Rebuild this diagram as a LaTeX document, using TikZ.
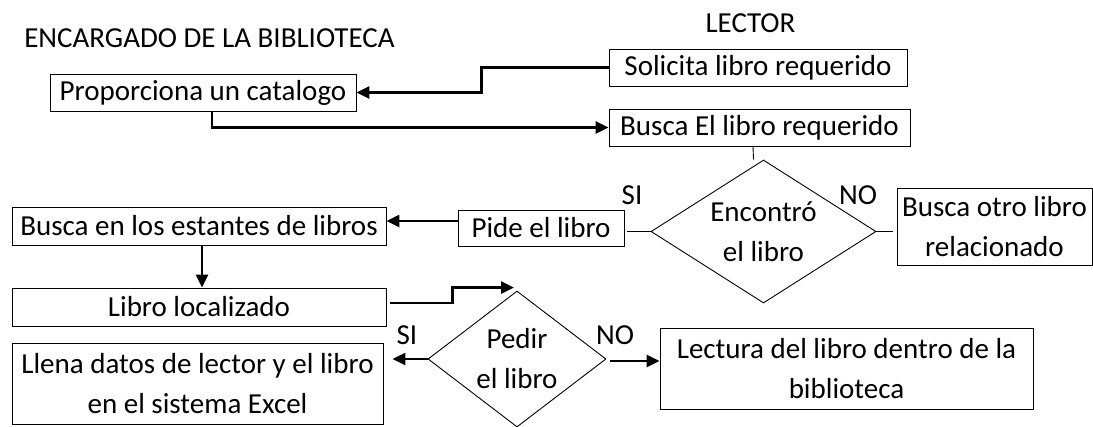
\documentclass[tikz,border=0pt]{standalone}
\usepackage{fontspec}
\setmainfont{Carlito}
\usetikzlibrary{arrows.meta,shapes.geometric}
\tikzset{
	caja/.style={draw, line width=0.9pt, inner sep=0pt, align=center},
	rombo/.style={draw, diamond, line width=0.9pt, inner sep=0pt, align=center},
	flecha/.style={line width=2.4pt, -{Triangle[length=13pt,width=12pt]}},
	linea/.style={line width=2.4pt}
}
\begin{document}
\fontsize{29}{40}\selectfont
\begin{tikzpicture}[x=1pt,y=-1pt]
		%\draw [help lines, step=50] (0,0) grid (1093,426);
		\useasboundingbox (0,0) rectangle (1093,426);
		\node (encargado) at (209.5,38){ENCARGADO DE LA BIBLIOTECA};
		\node (lector) at (750.5,23){LECTOR};
		\node[caja, minimum width=306pt, minimum height=37pt] (catalogo) at (203,92.5){Proporciona un catalogo};
		\node[caja, minimum width=298pt, minimum height=37pt] (solicita) at (758,67.5){Solicita libro requerido};
		\node[caja, minimum width=301pt, minimum height=37pt] (buscareq) at (759.5,127.5){Busca El libro requerido};
		\node[rombo, aspect=1.57, minimum width=225pt, minimum height=143pt] (encontro) at (763.5,231.5){Encontró\\el libro};
		\node[caja, minimum width=166pt, minimum height=36pt] (pide) at (541,228){Pide el libro};
		\node[caja, minimum width=195pt, minimum height=77pt] (otro) at (994.5,226.5){Busca otro libro\\relacionado};
		\node[caja, minimum width=374pt, minimum height=38pt] (estantes) at (199,226){Busca en los estantes de libros};
		\node[caja, minimum width=374pt, minimum height=38pt] (localizado) at (199,307){Libro localizado};
		\node[rombo, aspect=1.31, minimum width=178pt, minimum height=136pt] (pedir) at (517,359){Pedir\\el libro};
		\node[caja, minimum width=371pt, minimum height=81pt] (llena) at (197.5,383.5){Llena datos de lector y el libro\\en el sistema Excel};
		\node[caja, minimum width=373pt, minimum height=81pt] (lectura) at (846.5,368.5){Lectura del libro dentro de la\\biblioteca};
		\node (si1) at (632,195){SI};
		\node (no1) at (858,195){NO};
		\node (si2) at (407,335){SI};
		\node (no2) at (615,335){NO};
		\draw[flecha] (solicita.west) -- ++(-127,0) |- (catalogo.east);
		\draw[flecha] ([xshift=9pt]catalogo.south) |- (buscareq.west);
		\draw[line width=0.9pt] ([xshift=-6.5pt]buscareq.south) -- ([xshift=-10pt]encontro.north);
		\draw[line width=0.9pt] (encontro.west) -- ([xshift=3pt]pide.east |- encontro.west);
		\draw[flecha] ([yshift=7pt]pide.west) -- ([yshift=7pt]pide.west -| estantes.east);
		\draw[flecha] ([xshift=3pt]estantes.south) -- ([xshift=3pt]localizado.north);
		\draw[line width=0.9pt] (encontro.east) -- ([xshift=-4pt]encontro.east -| otro.west);
		\draw[flecha] ([xshift=4pt,yshift=4pt]localizado.east) -- ++(62,0) |- ([xshift=-3pt,yshift=3pt]pedir.north);
		\draw[flecha] (pedir.west) -- ([xshift=9pt]pedir.west -| llena.east);
		\draw[flecha, shorten <=4pt] ([yshift=-2pt]pedir.east) -- ([yshift=-2pt]pedir.east -| lectura.west);
\end{tikzpicture}
\end{document}
